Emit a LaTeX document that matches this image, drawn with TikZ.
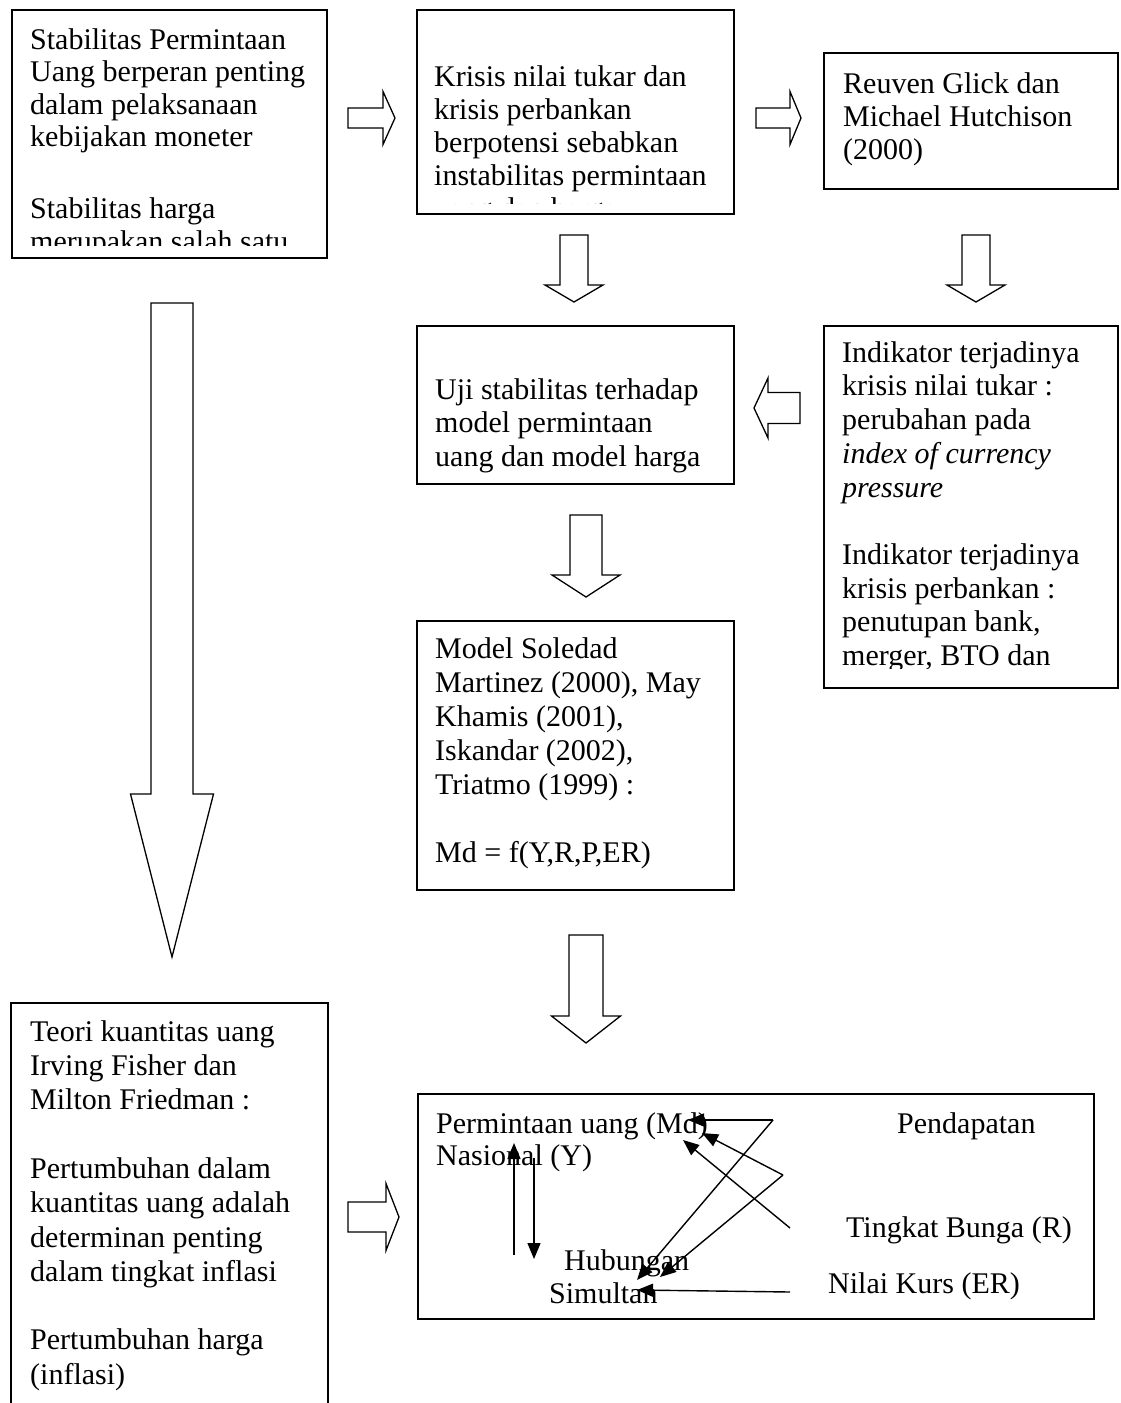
\documentclass[tikz,border=0pt]{standalone}
\usepackage{fontspec}
\setmainfont{Liberation Serif}
\usetikzlibrary{arrows.meta}

\tikzset{
  box/.style={draw, line width=1.6pt, inner sep=0pt, anchor=north west},
  txt/.style={align=left, anchor=north west, inner sep=0pt, font=\fontsize{30}{#1}\selectfont},
  txt/.default=33.5,
  lbl/.style={anchor=base west, inner sep=0pt, font=\fontsize{30}{33.5}\selectfont},
  hollow/.style={draw, line width=1.3pt, fill=white, line join=miter},
  link/.style={line width=1.4pt, -{Triangle[length=16pt,width=13pt]}}
}

% strut for the first line of a text block
\newcommand{\up}{\rule{0pt}{23pt}}
% hollow block arrow pointing down: centre x, top y, half shaft, half head, head base y, tip y
\newcommand{\arrdown}[6]{%
  \draw[hollow] ({#1-#3},#2) -- ({#1+#3},#2) -- ({#1+#3},#5) -- ({#1+#4},#5) -- (#1,#6)
    -- ({#1-#4},#5) -- ({#1-#3},#5) -- cycle;}
% hollow block arrow pointing sideways: centre y, back x, half shaft, half head, head base x, tip x
\newcommand{\arrside}[6]{%
  \draw[hollow] (#2,{#1-#3}) -- (#5,{#1-#3}) -- (#5,{#1-#4}) -- (#6,#1) -- (#5,{#1+#4})
    -- (#5,{#1+#3}) -- (#2,{#1+#3}) -- cycle;}

\begin{document}
\begin{tikzpicture}[x=1pt,y=-1pt]
    \useasboundingbox (0,0) rectangle (1121,1403);

    % boxes
    \node[box, minimum width=315pt, minimum height=248pt] (stab) at (11,9) {};
    \node[box, minimum width=317pt, minimum height=204pt] (krisis) at (416,9) {};
    \node[box, minimum width=294pt, minimum height=136pt] (glick) at (823,52) {};
    \node[box, minimum width=317pt, minimum height=158pt] (uji) at (416,325) {};
    \node[box, minimum width=294pt, minimum height=362pt] (indikator) at (823,325) {};
    \node[box, minimum width=317pt, minimum height=269pt] (model) at (416,620) {};
    \node[box, minimum width=676pt, minimum height=225pt] (hubungan) at (417,1093) {};
    \node[box, minimum width=317pt, minimum height=460pt] (teori) at (10,1002) {};

    % texts, cut off where the boxes cut them
    \begin{scope}
        \clip (11,9) rectangle (326,245);
        \node[txt=32.5] (stabtxt) at (30,26) {\up Stabilitas Permintaan\\Uang berperan penting\\
            dalam pelaksanaan\\kebijakan moneter\\[39.5pt]Stabilitas harga\\merupakan salah satu};
    \end{scope}
    \begin{scope}
        \clip (416,9) rectangle (733,203);
        \node[txt=33] (krisistxt) at (434,63) {\up Krisis nilai tukar dan\\krisis perbankan\\
            berpotensi sebabkan\\instabilitas permintaan\\uang dan harga};
    \end{scope}
    \node[txt=33] (glicktxt) at (843,70) {\up Reuven Glick dan\\Michael Hutchison\\(2000)};
    \node[txt] (ujitxt) at (435,376) {\up Uji stabilitas terhadap\\model permintaan\\uang dan model harga};
    \begin{scope}
        \clip (823,325) rectangle (1117,668);
        \node[txt=33.7] (indtxt) at (842,339) {\up Indikator terjadinya\\krisis nilai tukar :\\
            perubahan pada\\\textit{index of currency}\\\textit{pressure}\\[33.7pt]
            Indikator terjadinya\\krisis perbankan :\\penutupan bank,\\merger, BTO dan};
    \end{scope}
    \node[txt=34] (modeltxt) at (435,635) {\up Model Soledad\\Martinez (2000), May\\Khamis (2001),\\
        Iskandar (2002),\\Triatmo (1999) :\\[34pt]Md = f(Y,R,P,ER)};
    \node[txt=34.3] (teoritxt) at (30,1018) {\up Teori kuantitas uang\\Irving Fisher dan\\Milton Friedman :\\[34.3pt]
        Pertumbuhan dalam\\kuantitas uang adalah\\determinan penting\\dalam tingkat inflasi\\[34.3pt]
        Pertumbuhan harga\\(inflasi)};

    % hollow arrows between the boxes
    \arrside{118}{348}{10}{26.5}{383}{395}
    \arrside{118}{756}{10}{26.5}{790}{801}
    \arrside{408}{800}{15.5}{30}{768}{754}
    \arrside{1217}{348}{15}{33.5}{386}{399}
    \arrdown{574}{235}{14}{29}{285}{302}
    \arrdown{976}{235}{14}{29}{285}{302}
    \arrdown{586}{515}{16}{34}{575}{597}
    \arrdown{586}{935}{17}{34.5}{1016}{1043}
    \arrdown{172}{303}{21}{41.5}{794}{957}

    % labels in the last box
    \node[lbl] (md) at (436,1133) {Permintaan uang (Md)};
    \node[lbl] (pend) at (897,1133) {Pendapatan};
    \node[lbl] (nas) at (436,1165) {Nasional (Y)};
    \node[lbl] (bunga) at (846,1237) {Tingkat Bunga (R)};
    \node[lbl] (hub) at (564,1270) {Hubungan};
    \node[lbl] (sim) at (549,1303) {Simultan};
    \node[lbl] (kurs) at (828,1293) {Nilai Kurs (ER)};

    % small arrows
    \coordinate (fromY) at (773,1120);
    \coordinate (fromR) at (783,1175);
    \coordinate (fromR2) at (790,1228);
    \coordinate (fromER) at (790,1292);
    \coordinate (toMd) at (688,1120);
    \coordinate (toMd2) at (702,1133);
    \coordinate (toMd3) at (683,1140);
    \coordinate (toSim) at (637,1280);
    \coordinate (toSim2) at (660,1277);
    \coordinate (toSim3) at (637,1290);
    \coordinate (upA) at (514,1255);
    \coordinate (upB) at (514,1143);
    \coordinate (dnA) at (534,1158);
    \coordinate (dnB) at (534,1259);
    \draw[link] (fromY) -- (toMd);
    \draw[link] (fromY) -- (toSim);
    \draw[link] (fromR) -- (toMd2);
    \draw[link] (fromR) -- (toSim2);
    \draw[link] (fromR2) -- (toMd3);
    \draw[link] (fromER) -- (toSim3);
    \draw[link] (upA) -- (upB);
    \draw[link] (dnA) -- (dnB);
\end{tikzpicture}
\end{document}
